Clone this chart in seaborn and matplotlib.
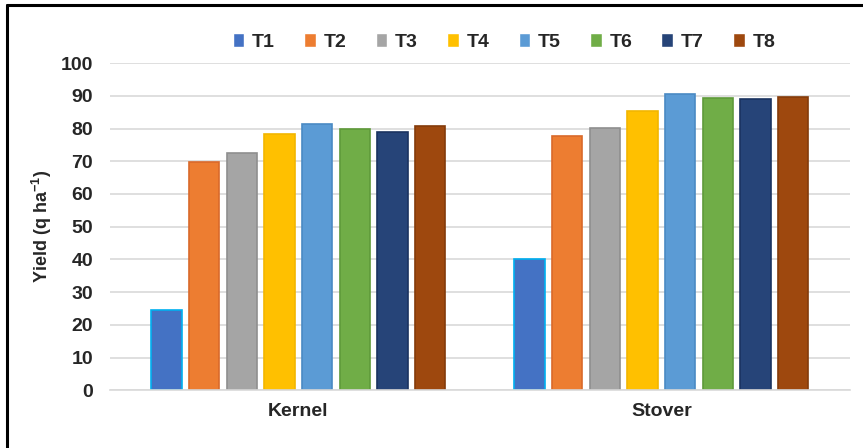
import pandas as pd
import numpy as np
import matplotlib.pyplot as plt
import seaborn as sns
from matplotlib.lines import Line2D

# data
groups = ['Kernel', 'Stover']
treatments = ['T1', 'T2', 'T3', 'T4', 'T5', 'T6', 'T7', 'T8']
kernel = [24.5, 69.7, 72.5, 78.3, 81.4, 79.8, 78.9, 80.7]
stover = [40.0, 77.8, 80.1, 85.3, 90.6, 89.5, 89.0, 89.8]

colors = ['#4472C4', '#ED7D31', '#A5A5A5', '#FFC000', '#5B9BD5', '#70AD47', '#264478', '#9E480E']
edges = ['#00B0F0', '#D9692A', '#8F8F8F', '#F2B600', '#4A8AC4', '#5F9A3A', '#1A3360', '#843B0A']

df = pd.DataFrame({
    'group': np.repeat(groups, len(treatments)),
    'treatment': treatments * len(groups),
    'yield': kernel + stover,
})

sns.set_style('white')
plt.rcParams['font.family'] = ['Liberation Sans', 'DejaVu Sans']
plt.rcParams['mathtext.fontset'] = 'custom'
plt.rcParams['mathtext.bf'] = 'Liberation Sans:bold'
plt.rcParams['mathtext.rm'] = 'Liberation Sans:bold'
plt.rcParams['mathtext.default'] = 'bf'

fig = plt.figure(figsize=(8.63, 4.48), dpi=100)
ax = fig.add_axes([0.127, 0.129, 0.858, 0.73])

sns.barplot(data=df, x='group', y='yield', hue='treatment', hue_order=treatments,
            palette=colors, saturation=1, width=0.83, gap=0.2, ax=ax, legend=True)

for cont, ec in zip(ax.containers, edges):
    for bar in cont:
        bar.set_edgecolor(ec)
        bar.set_linewidth(1.2)

ax.set_ylim(0, 100)
ax.set_xlim(-0.52, 1.52)
ax.set_yticks(range(0, 101, 10))
ax.yaxis.grid(True, color='#D9D9D9', linewidth=1.2)
ax.set_axisbelow(True)
for s in ['top', 'right', 'left']:
    ax.spines[s].set_visible(False)
ax.spines['bottom'].set_color('#D9D9D9')
ax.spines['bottom'].set_linewidth(1.2)
ax.tick_params(axis='y', length=0, labelsize=14, pad=12)
ax.tick_params(axis='x', length=0, labelsize=14, pad=9)
for lbl in ax.get_xticklabels() + ax.get_yticklabels():
    lbl.set_fontweight('bold')
ax.set_xlabel('')
ax.set_ylabel('Yield (q ha$^{-1}$)', fontsize=13, fontweight='bold', labelpad=5)

handles, labels = ax.get_legend_handles_labels()
ax.get_legend().remove()
leg = fig.legend(handles, labels, loc='center', bbox_to_anchor=(0.584, 0.906), ncol=8,
                 frameon=False, handlelength=0.6, handleheight=0.7, handletextpad=0.4,
                 columnspacing=1.5, prop={'weight': 'bold', 'size': 14})

# outer frame: only top and left edges show in the picture
fig.lines.append(Line2D([0.008, 1.0], [0.989, 0.989], transform=fig.transFigure,
                        color='black', linewidth=2.2))
fig.lines.append(Line2D([0.008, 0.008], [0.0, 0.989], transform=fig.transFigure,
                        color='black', linewidth=2.2))

fig.savefig('out.png', dpi=100)
